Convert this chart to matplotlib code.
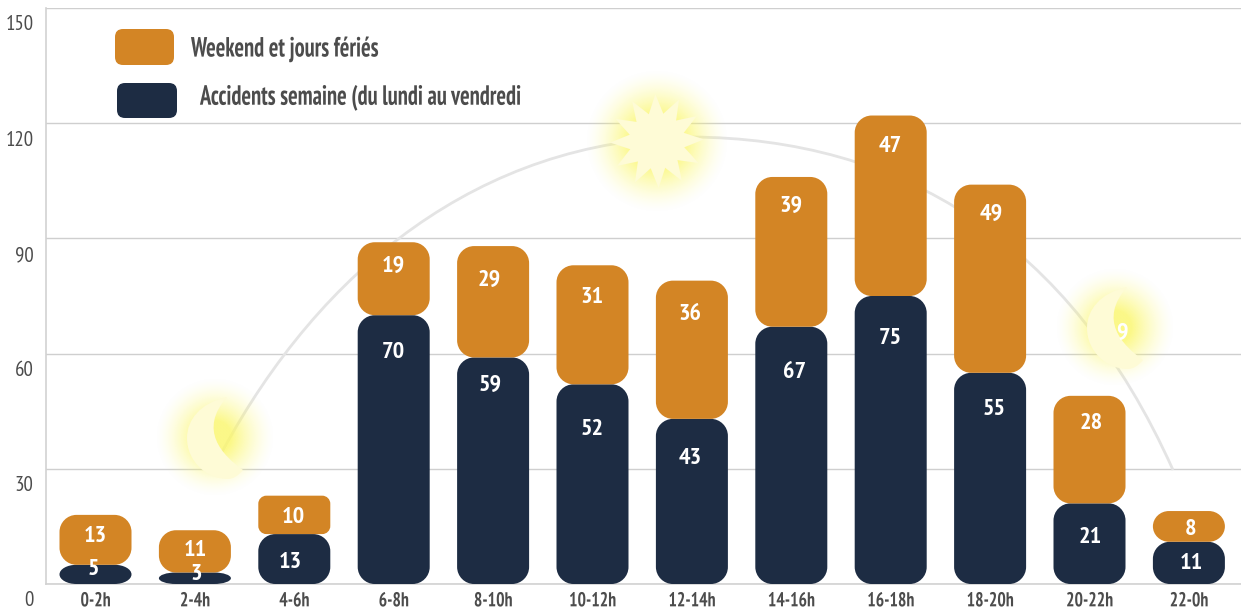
import numpy as np
import matplotlib
matplotlib.use('Agg')
import matplotlib.pyplot as plt
from matplotlib.colors import to_rgb
from matplotlib.patches import PathPatch, Polygon, FancyBboxPatch
from matplotlib.patheffects import AbstractPathEffect
from matplotlib.path import Path
from matplotlib.transforms import Affine2D, ScaledTranslation

plt.rcParams['font.family'] = ['PT Sans Narrow', 'Liberation Sans', 'DejaVu Sans']

hours = ['0-2h', '2-4h', '4-6h', '6-8h', '8-10h', '10-12h', '12-14h', '14-16h', '16-18h', '18-20h', '20-22h', '22-0h']
semaine = [5, 3, 13, 70, 59, 52, 43, 67, 75, 55, 21, 11]
weekend = [13, 11, 10, 19, 29, 31, 36, 39, 47, 49, 28, 8]
yticks = [0, 30, 60, 90, 120, 150]

# label offsets from the top of each block, in px
semaine_dy = [5, 2, 28, 37, 28, 45, 40, 46, 43, 37, 34, 22]
weekend_dy = [22, 20, 22, 24, 34, 32, 34, 30, 31, 30, 28, 18]
semaine_dx = [-2, 1, -4, 0, -3, 0, -2, 3, 0, 4, 1, 2]
weekend_dx = [0, 0, -1, 0, -4, 0, -2, 0, 0, 1, 2, 2]
weekend_r = [17, 17, 8, 17, 17, 17, 17, 17, 17, 17, 17, 16]

ORANGE = '#d38525'
NAVY = '#1d2c43'
GREY = '#4c4c4c'
PALE = '#fefbd6'
W, H = 1241, 610
PX_X = 99.4   # px per bar slot
PX_Y = 576 / 150


class Squeeze(AbstractPathEffect):
    # narrows drawn text, the reference font is more condensed than any here
    def __init__(self, sx, anchor='center'):
        super().__init__()
        self.sx = sx
        self.anchor = anchor

    def draw_path(self, renderer, gc, tpath, affine, rgbFace=None):
        box = tpath.get_extents()
        x = box.x0 if self.anchor == 'left' else (box.x0 + box.x1) / 2
        px = affine.transform_point((x, 0))[0]
        squeeze = Affine2D().translate(-px, 0).scale(self.sx, 1).translate(px, 0)
        renderer.draw_path(gc, tpath, affine + squeeze, rgbFace)


fig = plt.figure(figsize=(W / 100, H / 100), dpi=100)
ax = fig.add_axes([46 / W, 26 / H, (W - 46) / W, 576 / H])

# pixel coords of the reference, y going down
pix = Affine2D().scale(1, -1).translate(0, H)


def round_bar(x, bottom, height, color, r=17, z=3):
    x0, x1 = x - 36 / PX_X, x + 36 / PX_X
    y0, y1 = bottom, bottom + height
    rx = r / PX_X
    ry = min(r / PX_Y, height / 2)
    k = 0.45
    verts = [(x0 + rx, y0), (x1 - rx, y0),
             (x1 - rx * k, y0), (x1, y0 + ry * k), (x1, y0 + ry),
             (x1, y1 - ry),
             (x1, y1 - ry * k), (x1 - rx * k, y1), (x1 - rx, y1),
             (x0 + rx, y1),
             (x0 + rx * k, y1), (x0, y1 - ry * k), (x0, y1 - ry),
             (x0, y0 + ry),
             (x0, y0 + ry * k), (x0 + rx * k, y0), (x0 + rx, y0)]
    codes = [Path.MOVETO, Path.LINETO,
             Path.CURVE4, Path.CURVE4, Path.CURVE4, Path.LINETO,
             Path.CURVE4, Path.CURVE4, Path.CURVE4, Path.LINETO,
             Path.CURVE4, Path.CURVE4, Path.CURVE4, Path.LINETO,
             Path.CURVE4, Path.CURVE4, Path.CURVE4]
    ax.add_patch(PathPatch(Path(verts, codes), fc=color, ec='none', zorder=z))


def glow(cx, cy, r, strength):
    n = 200
    yy, xx = np.mgrid[-1:1:n * 1j, -1:1:n * 1j]
    d = np.hypot(xx, yy)
    img = np.zeros((n, n, 4))
    img[..., :3] = to_rgb('#fbf76a')
    img[..., 3] = np.clip(strength * (1 - d) ** 1.5, 0, 0.8)
    ax.imshow(img, extent=(cx - r, cx + r, cy - r, cy + r), transform=pix,
              aspect='auto', zorder=5, interpolation='bilinear', clip_on=False)


def moon(dx, dy):
    verts = [(227, 397), (200, 403), (187, 420), (187, 438),
             (187, 460), (205, 479), (228, 479),
             (233, 479), (238, 476), (243, 470),
             (222, 455), (198, 430), (227, 397)]
    codes = [Path.MOVETO] + [Path.CURVE4] * 12
    verts = [(a + dx, b + dy) for a, b in verts]
    ax.add_patch(PathPatch(Path(verts, codes), fc=PALE, ec='none', zorder=6, transform=pix, clip_on=False))


for i in range(len(hours)):
    round_bar(i, 0, semaine[i], NAVY, z=3)
    round_bar(i, semaine[i], weekend[i], ORANGE, r=weekend_r[i], z=3)
    t1 = ScaledTranslation(semaine_dx[i] / 100, -semaine_dy[i] / 100, fig.dpi_scale_trans)
    t2 = ScaledTranslation(weekend_dx[i] / 100, -weekend_dy[i] / 100, fig.dpi_scale_trans)
    ax.text(i, semaine[i], str(semaine[i]), color='white', fontsize=17.5, fontweight='bold',
            ha='center', va='center', zorder=8, transform=ax.transData + t1)
    ax.text(i, semaine[i] + weekend[i], str(weekend[i]), color='white', fontsize=17.5, fontweight='bold',
            ha='center', va='center', zorder=8, transform=ax.transData + t2)

# grey day arc behind the bars
arc = Path([(222, 452), (320, 270), (480, 140), (690, 137),
            (900, 138), (1070, 240), (1173, 470)],
           [Path.MOVETO] + [Path.CURVE4] * 6)
ax.add_patch(PathPatch(arc, fc='none', ec='#e4e4e4', lw=2, zorder=2, transform=pix, clip_on=False))

# glows and shapes
glow(215, 437, 60, 1.3)
glow(1115, 327, 60, 1.3)
glow(657, 141, 72, 1.6)
moon(0, 0)
moon(900, -110)
angles = np.deg2rad(np.arange(0, 360, 15) + 92)
radii = np.where(np.arange(24) % 2 == 0, 47, 28)
star = np.column_stack([657 + radii * np.cos(angles), 141 - radii * np.sin(angles)])
ax.add_patch(Polygon(star, closed=True, fc=PALE, ec='none', zorder=6, transform=pix))
ax.text(1122, 333, '9', color='white', fontsize=17.5, fontweight='bold', ha='center', va='center',
        zorder=8, transform=pix)

ax.set_xlim(-49.5 / PX_X, (W - 95.5) / PX_X)
ax.set_ylim(0, 150)

ax.set_yticks(yticks)
ax.set_xticks(range(len(hours)))
ax.set_xticklabels(hours, fontsize=14.5, color=GREY, fontweight='bold')
for lab in ax.get_xticklabels():
    lab.set_path_effects([Squeeze(0.88)])
ax.tick_params(axis='both', length=0)
ax.tick_params(axis='x', pad=6)
ax.tick_params(axis='y', pad=9, labelsize=15, labelcolor=GREY)
ylab_shift = ScaledTranslation(0, -15 / 100, fig.dpi_scale_trans)
for lab in ax.get_yticklabels():
    lab.set_transform(lab.get_transform() + ylab_shift)
ax.grid(axis='y', color='#cfcfcf', lw=1, zorder=0)
ax.set_axisbelow(True)
for s in ['top', 'right']:
    ax.spines[s].set_visible(False)
for s in ['left', 'bottom']:
    ax.spines[s].set_color('#d2d2d2')
    ax.spines[s].set_linewidth(1.2)

# legend, drawn by hand like the reference
ax.add_patch(FancyBboxPatch((115, 29), 59, 36, boxstyle='round,pad=0,rounding_size=8',
                            fc=ORANGE, ec='none', transform=pix, zorder=4, clip_on=False))
ax.add_patch(FancyBboxPatch((117, 83), 60, 35, boxstyle='round,pad=0,rounding_size=8',
                            fc=NAVY, ec='none', transform=pix, zorder=4, clip_on=False))
ax.text(191, 49, 'Weekend et jours fériés', color=GREY, fontsize=20, fontweight='bold', va='center',
        transform=pix, path_effects=[Squeeze(0.81, 'left')])
ax.text(200, 98, 'Accidents semaine (du lundi au vendredi', color=GREY, fontsize=20, fontweight='bold', va='center',
        transform=pix, path_effects=[Squeeze(0.81, 'left')])

fig.savefig('out.png', dpi=100)
